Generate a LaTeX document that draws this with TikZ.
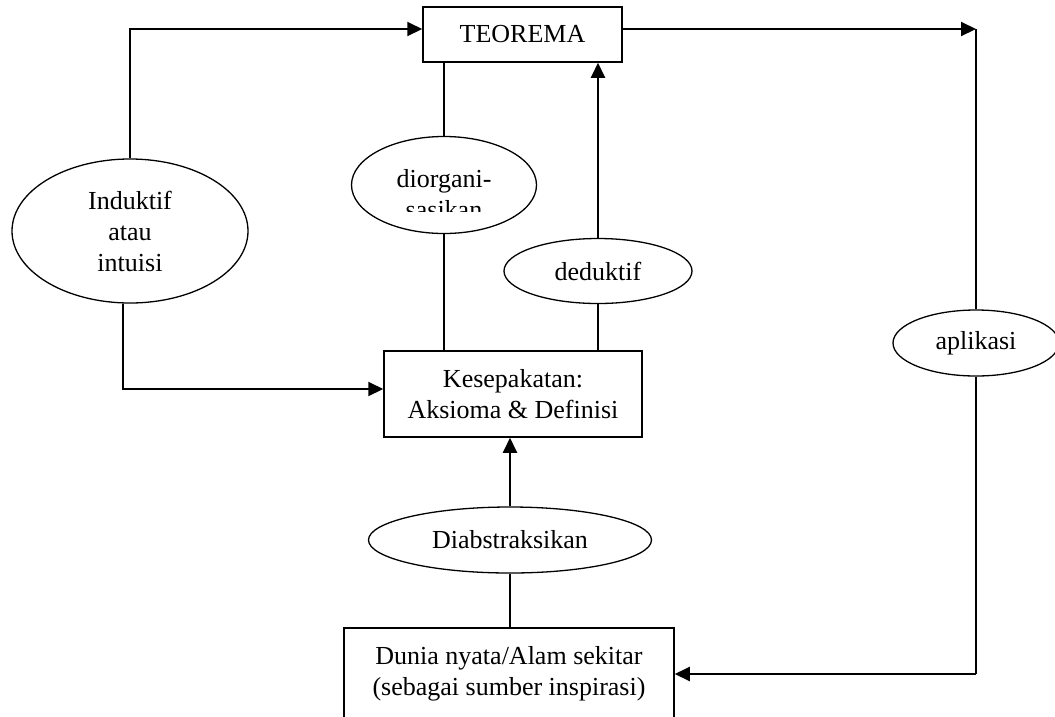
\documentclass[tikz,border=0pt]{standalone}
\usepackage{fontspec}
\setmainfont{Liberation Serif}
\usetikzlibrary{positioning,calc,arrows.meta,shapes.geometric}

\begin{document}
\begin{tikzpicture}[
  x=1pt,y=-1pt,
  font=\fontsize{26}{31}\selectfont,
  box/.style={draw,line width=1.5pt,inner sep=0pt,align=center},
  oval/.style={draw,ellipse,line width=1.3pt,inner sep=0pt,align=center},
  flow/.style={-{Triangle[length=15pt,width=14pt]},line width=2pt},
  link/.style={line width=1.3pt},
  lbl/.style={inner sep=0pt,align=center}
]
\useasboundingbox (0,0) rectangle (1055,716);

% ---- boxes ----
\node[box,minimum width=199pt,minimum height=55pt] (teorema) at (522.5,34.5) {TEOREMA};
\node[box,minimum width=258pt,minimum height=86pt] (kesep) at (513,394)
  {Kesepakatan:\\Aksioma \& Definisi};
\node[box,minimum width=330pt,minimum height=92pt] (dunia) at (509,674)
  {Dunia nyata/Alam sekitar\\(sebagai sumber inspirasi)};

% ---- ovals ----
\node[oval,minimum width=236pt,minimum height=144pt] (induktif) at (130,231)
  {Induktif\\atau\\intuisi};
\node[oval,minimum width=185pt,minimum height=97pt] (diorg) at (444,185) {};
\begin{scope}
  \clip (352,140) rectangle (537,211);
  \node[lbl] at ([yshift=-9pt]diorg.center) {diorgani-\\sasikan};
\end{scope}
\node[oval,minimum width=188pt,minimum height=65pt] (deduktif) at (598,271) {deduktif};
\node[oval,minimum width=283pt,minimum height=66pt] (diabs) at (510,540) {Diabstraksikan};
\node[oval,minimum width=166pt,minimum height=66pt] (aplikasi) at (976,343) {aplikasi};

% ---- corners ----
\coordinate (te) at ([yshift=5.5pt]teorema.east);
\coordinate (tr) at (aplikasi.north |- te);
\coordinate (br) at (aplikasi.south |- dunia.east);

% ---- left loop ----
\draw[flow] (induktif.north) |- ([yshift=5.5pt]teorema.west);
\draw[flow] ([xshift=-7pt]induktif.south) |- ([yshift=5pt]kesep.west);

% ---- middle ----
\draw[link] (diorg.north) -- (diorg.north |- teorema.south);
\draw[link] (diorg.south) -- (diorg.south |- kesep.north);
\draw[link] (deduktif.south) -- (deduktif.south |- kesep.north);
\draw[flow] (deduktif.north) -- (deduktif.north |- teorema.south);
\draw[flow] (diabs.north) -- (diabs.north |- kesep.south);
\draw[link] (diabs.south) -- (diabs.south |- dunia.north);

% ---- right loop ----
\draw[flow] (te) -- (tr);
\draw[link] (tr) -- (aplikasi.north);
\draw[link] (aplikasi.south) -- (br);
\draw[flow] (br) -- (dunia.east);

\end{tikzpicture}
\end{document}
